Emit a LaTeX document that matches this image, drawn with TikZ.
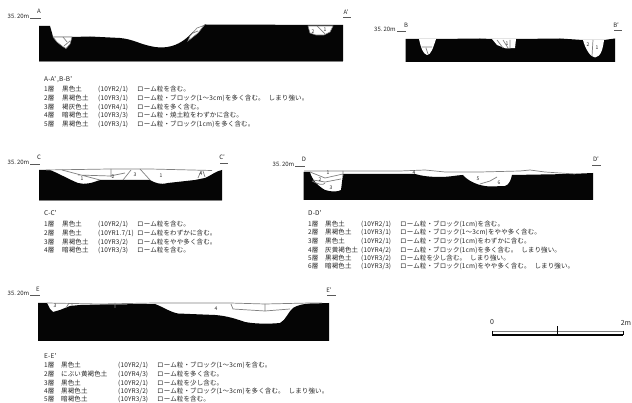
\documentclass[tikz,border=0pt]{standalone}
\usepackage{fontspec}
\setmainfont{Noto Sans CJK JP}
\newfontfamily\rowfont[LetterSpace=2]{Noto Sans CJK JP}
\definecolor{txt}{gray}{0.15}
\definecolor{soil}{gray}{0.02}
\definecolor{seam}{gray}{0.5}
\tikzset{
  soilfill/.style={fill=soil,draw=none},
  pit/.style={fill=white,draw=seam,line width=0.6pt},
  seamline/.style={draw=seam,line width=0.7pt},
  ref/.style={draw=seam!70!black,line width=0.7pt},
  lab/.style={inner sep=0pt,text=txt,font=\fontsize{6}{6}\selectfont},
  layernum/.style={inner sep=0pt,text=txt,font=\fontsize{5}{5}\selectfont},
  rowtext/.style={inner sep=0pt,anchor=west,text=txt,font=\rowfont\fontsize{6.5}{6.5}\selectfont},
  scaletext/.style={inner sep=0pt,text=txt,font=\fontsize{7}{7}\selectfont},
}
\newcommand{\soilrow}[8]{%
  \node[rowtext] at (#1,#5) {#6};
  \node[rowtext] at (#2,#5) {#7};
  \node[rowtext] at (#3,#5) {(#8)};
  \soilrownote{#4}{#5}}
\newcommand{\soilrownote}[3]{\node[rowtext] at (#1,#2) {#3};}
\newcommand{\sgap}{\kern 4pt\relax}
\begin{document}
\begin{tikzpicture}[x=1pt,y=-1pt]
\useasboundingbox (0,0) rectangle (632,403);
\fill[white] (0,0) rectangle (632,403);

%% ---------- A-A'
\fill[soilfill] (39,26) -- (50,26) -- (52,33) -- (53,37) -- (60,37) -- (72,37) -- (90,36.5) -- (120,38)
  .. controls (132,39) and (140,44) .. (150,46) .. controls (158,48) and (165,48) .. (172,46)
  .. controls (182,43) and (188,37) .. (193,32) -- (205,24.5) -- (343,25) -- (343,61) -- (39,61) -- cycle;
\fill[pit] (53,37) -- (72,37) -- (70,44) -- (66,48.5) -- (62,46) -- (57,42) -- cycle;
\draw[seamline] (63,37) -- (67,42) (64,46) -- (70,41);
\fill[pit] (190,36) -- (197,28) -- (204,25.5) -- (198,33) -- (188,41) -- cycle;
\draw[seamline] (193,33) -- (198,31);
\fill[pit] (308,26) -- (333,26) -- (330,32) -- (324,35) -- (316,35) -- (310,33) -- cycle;
\draw[seamline] (317,26) -- (325,34);
\node[layernum] at (313,32) {2};
\node[layernum] at (325,30) {1};
\draw[seamline] (39,61.5) -- (343,61.5);
\node[lab] at (18.5,16) {35.\,20m};
\node[lab] at (39,11) {A};
\node[lab] at (346,12) {A'};
\coordinate (a1) at (30,18); \coordinate (a2) at (41,18);
\coordinate (a3) at (343,17); \coordinate (a4) at (351,17);
\draw[ref] (a1) -- (a2) (a3) -- (a4);

\node[rowtext] at (44,80) {A-A'\,,B-B'};
\soilrow{44}{62}{98}{137}{89.5}{1層}{黒色土}{10YR2/1}{ローム粒を含む。}
\soilrow{44}{62}{98}{137}{98}{2層}{黒褐色土}{10YR3/1}{ローム粒・ブロック(1〜3cm)を多く含む。\sgap しまり強い。}
\soilrow{44}{62}{98}{137}{107}{3層}{褐灰色土}{10YR4/1}{ローム粒を多く含む。}
\soilrow{44}{62}{98}{137}{115.5}{4層}{暗褐色土}{10YR3/3}{ローム粒・焼土粒をわずかに含む。}
\soilrow{44}{62}{98}{137}{124}{5層}{黒褐色土}{10YR3/1}{ローム粒・ブロック(1cm)を多く含む。}

%% ---------- B-B'
\fill[soilfill] (405.5,39) -- (419,39) -- (436,39) -- (480,38.5) -- (492,39) -- (516,39) -- (560,38.5) -- (583,40) -- (604,40) -- (615,38.5) -- (615,62) -- (405.5,62) -- cycle;
\fill[white] (419,39) .. controls (421,48) and (423,54) .. (427,55) .. controls (431,55) and (433,48) .. (436,39) -- cycle;
\draw[seamline] (421.5,47) -- (432,47) (426,48) -- (428,54);
\fill[white] (492,39) -- (497,45) -- (506,48.5) -- (515,48) -- (516,39) -- cycle;
\draw[seamline] (497,40) -- (503,48) (503,40) -- (508,48) (510,40) -- (510,48);
\node[layernum] at (507,44) {1};
\fill[white] (583,40) .. controls (585,48) and (590,57) .. (595,57.5) .. controls (601,57) and (603,48) .. (604,40) -- cycle;
\draw[seamline] (593,40) -- (592,56);
\node[layernum] at (588,45) {2};
\node[layernum] at (597,48) {1};
\node[lab] at (385,29) {35.\,20m};
\node[lab] at (406,25) {B};
\node[lab] at (616,25) {B'};
\coordinate (b1) at (397,31); \coordinate (b2) at (406,31);
\coordinate (b3) at (614,30); \coordinate (b4) at (622,30);
\draw[ref] (b1) -- (b2) (b3) -- (b4);

%% ---------- C-C'
\fill[soilfill] (39,170) -- (50,170) .. controls (60,174) and (68,179) .. (78,183) .. controls (85,185) and (92,183) .. (100,180)
  -- (150,180) .. controls (155,183) and (160,185) .. (168,183) -- (195,180) -- (205,178) .. controls (212,175) and (216,171) .. (222,170) -- (222,200.5) -- (39,200.5) -- cycle;
\draw[seamline] (46,170) -- (110,169) -- (150,169) -- (212,170.5);
\draw[seamline] (62,170) -- (100,180) (78,175) -- (110,176) -- (125,173)
  (111,169) -- (111,177) (123,180) -- (131,170) (140,169) -- (150,180)
  (198,178) -- (201,171) (203,171) -- (205,177);
\draw[seamline] (39,200.5) -- (222,200.5);
\node[layernum] at (82,179) {1};
\node[layernum] at (113,177) {2};
\node[layernum] at (135,175) {3};
\node[layernum] at (161,176) {1};
\node[layernum] at (201,174) {4};
\node[lab] at (18.5,162) {35.\,20m};
\node[lab] at (39,157) {C};
\node[lab] at (222,157) {C'};
\coordinate (c1) at (30,164); \coordinate (c2) at (40,164);
\coordinate (c3) at (220,163); \coordinate (c4) at (228,163);
\draw[ref] (c1) -- (c2) (c3) -- (c4);

\node[rowtext] at (44,213) {C-C'};
\soilrow{44}{62}{98}{137}{224}{1層}{黒色土}{10YR2/1}{ローム粒を含む。}
\soilrow{44}{62}{98}{137}{233}{2層}{黒色土}{10YR1.7/1}{ローム粒をわずかに含む。}
\soilrow{44}{62}{98}{137}{242}{3層}{黒褐色土}{10YR3/2}{ローム粒をやや多く含む。}
\soilrow{44}{62}{98}{137}{250}{4層}{暗褐色土}{10YR3/3}{ローム粒を含む。}

%% ---------- D-D'
\fill[soilfill] (303.5,172) -- (310,172) .. controls (312,180) and (318,186) .. (325,190) .. controls (331,192) and (338,192) .. (341,190) -- (343,174)
  -- (415,174) .. controls (422,176) and (430,177) .. (440,177) .. controls (450,177) and (458,175) .. (463,175)
  .. controls (468,181) and (478,186) .. (490,186.5) -- (505,186) .. controls (509,185) and (511,180) .. (512,175) -- (570,174) -- (593,173) -- (593,200) -- (303.5,200) -- cycle;
\draw[seamline] (304,171) -- (400,171) -- (425,170) -- (445,172) -- (480,172) -- (520,171) -- (530,170) -- (545,172) -- (575,174);
\draw[seamline] (310,172) -- (325,178) -- (343,174) (313,180) -- (325,182) -- (341,179) (343,171) -- (343,176);
\draw[seamline] (312,181) .. controls (318,184) and (323,186) .. (325,183);
\draw[seamline] (480,184) -- (490,181) -- (497,177);
\node[layernum] at (328,172.5) {1};
\node[layernum] at (320,180) {2};
\node[layernum] at (331,188) {3};
\node[layernum] at (414,173) {4};
\node[layernum] at (478,179) {5};
\node[layernum] at (499,183) {6};
\node[lab] at (283.5,164) {35.\,20m};
\node[lab] at (304,159) {D};
\node[lab] at (596,159) {D'};
\coordinate (d1) at (295,166); \coordinate (d2) at (305,166);
\coordinate (d3) at (592,165); \coordinate (d4) at (601,165);
\draw[ref] (d1) -- (d2) (d3) -- (d4);

\node[rowtext] at (308,213) {D-D'};
\soilrow{308}{325}{361}{400}{224}{1層}{黒色土}{10YR2/1}{ローム粒・ブロック(1cm)を含む。}
\soilrow{308}{325}{361}{400}{232.5}{2層}{黒褐色土}{10YR3/1}{ローム粒・ブロック(1〜3cm)をやや多く含む。}
\soilrow{308}{325}{361}{400}{241}{3層}{黒色土}{10YR2/1}{ローム粒・ブロック(1cm)をわずかに含む。}
\soilrow{308}{325}{361}{400}{250}{4層}{灰黄褐色土}{10YR4/2}{ローム粒・ブロック(1cm)を多く含む。\sgap しまり強い。}
\soilrow{308}{325}{361}{400}{258}{5層}{黒褐色土}{10YR3/2}{ローム粒を少し含む。\sgap しまり強い。}
\soilrow{308}{325}{361}{400}{266.5}{6層}{暗褐色土}{10YR3/3}{ローム粒・ブロック(1cm)をやや多く含む。\sgap しまり強い。}

%% ---------- E-E'
\fill[soilfill] (38,303) -- (47,303) -- (50,309) -- (53,312) -- (60,310) -- (70,306) -- (80,305) -- (100,304.5) -- (155,304)
  .. controls (163,307) and (170,312) .. (178,313.5) -- (190,314) -- (215,315) .. controls (228,316) and (236,319) .. (245,322) .. controls (255,324) and (270,324) .. (280,323)
  .. controls (286,320) and (288,312) .. (293,308) .. controls (298,305) and (303,304) .. (310,303.5) -- (329,303) -- (329,341) -- (38,341) -- cycle;
\draw[seamline] (47,303) -- (100,304) -- (155,303) -- (190,303) -- (230,303) -- (265,304) -- (310,303) -- (322,303);
\draw[seamline] (69,303) -- (66,308) (72,303) -- (72,306) (115,303) -- (115,308)
  (231,304) -- (233,309) -- (265,311) -- (290,309) (265,304) -- (265,311);
\node[layernum] at (55,306) {3};
\node[layernum] at (216,309) {4};
\node[lab] at (18.5,293) {35.\,20m};
\node[lab] at (38,289) {E};
\node[lab] at (329,290) {E'};
\coordinate (e1) at (30,295); \coordinate (e2) at (40,295);
\coordinate (e3) at (327,295); \coordinate (e4) at (336,295);
\draw[ref] (e1) -- (e2) (e3) -- (e4);

\node[rowtext] at (44,356) {E-E'};
\soilrow{44}{61}{118}{157}{365}{1層}{黒色土}{10YR2/1}{ローム粒・ブロック(1〜3cm)を含む。}
\soilrow{44}{61}{118}{157}{374}{2層}{にぶい黄褐色土}{10YR4/3}{ローム粒を多く含む。}
\soilrow{44}{61}{118}{157}{383}{3層}{黒色土}{10YR2/1}{ローム粒を少し含む。}
\soilrow{44}{61}{118}{157}{391}{4層}{黒褐色土}{10YR3/2}{ローム粒・ブロック(1〜3cm)を多く含む。\sgap しまり強い。}
\soilrow{44}{61}{118}{157}{399.5}{5層}{暗褐色土}{10YR3/3}{ローム粒を含む。}

%% ---------- scale
\coordinate (s0) at (492,331); \coordinate (s1) at (623,331);
\coordinate (t0) at (492,335); \coordinate (t1) at (623,335);
\coordinate (m0) at (557.7,326.5); \coordinate (m1) at (557.7,335);
\draw[seam,line width=0.8pt] (s0) -- (s1);
\draw[soil,line width=1.5pt] (t0) -- (t1);
\draw[soil,line width=0.8pt] (s0) -- (t0) (s1) -- (t1);
\draw[soil,line width=1pt] (m0) -- (m1);
\node[scaletext] at (492,322.5) {0};
\node[scaletext] at (626,322.5) {2m};
\end{tikzpicture}
\end{document}
